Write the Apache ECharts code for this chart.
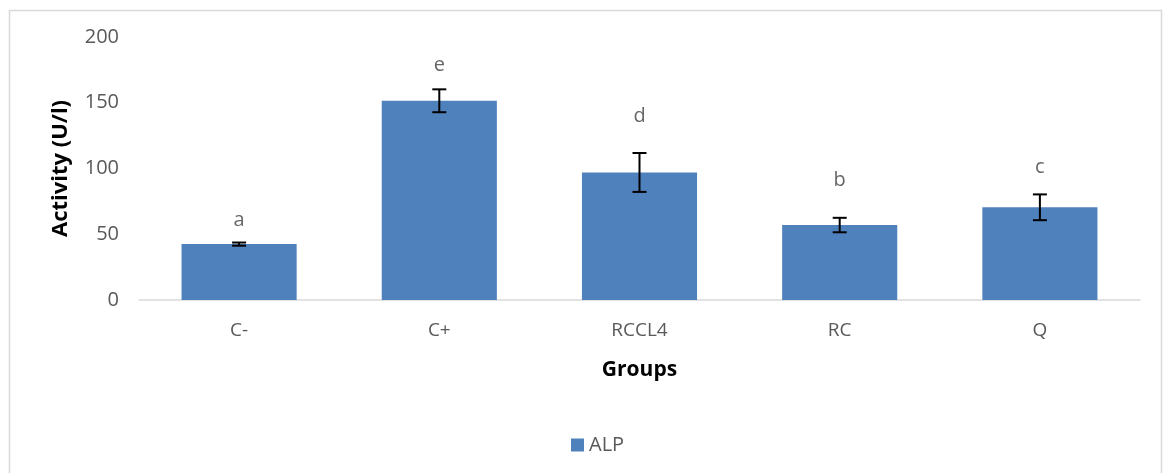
<!DOCTYPE html>
<html>
<head>
<meta charset="utf-8">
<script src="https://cdn.jsdelivr.net/npm/echarts@6/dist/echarts.min.js"></script>
<style>html,body{margin:0;padding:0;background:#fff}#c{width:1166px;height:473px}</style>
</head>
<body>
<div id="c"></div>
<script>
var categories = ['C-', 'C+', 'RCCL4', 'RC', 'Q'];
var alpValues = [42.5, 151.5, 97, 57, 70.5];
var alpErrors = [1.2, 8.7, 14.8, 5.5, 9.8];
var letters = ['a', 'e', 'd', 'b', 'c'];
var letterHeights = [60.8, 178.7, 139.9, 90.7, 100.9];
var yTicks = [0, 50, 100, 150, 200];

var chart = echarts.init(document.getElementById('c'), null, {renderer: 'canvas'});
var font = '"Open Sans", "Liberation Sans", sans-serif';
var option = {
  animation: false,
  backgroundColor: '#fff',
  graphic: [{
    type: 'rect', left: 7, top: 8,
    shape: {width: 1152, height: 480},
    style: {fill: 'none', stroke: '#d9d9d9', lineWidth: 1.5},
    silent: true, z: -1
  }],
  grid: {left: 139, right: 26, top: 37, bottom: 173, containLabel: false},
  legend: {
    data: ['ALP'], left: 566, top: 430,
    itemWidth: 13, itemHeight: 13, icon: 'rect', itemGap: 6,
    textStyle: {color: '#595959', fontSize: 20, fontFamily: font}
  },
  xAxis: {
    type: 'category', data: categories,
    name: 'Groups', nameLocation: 'middle', nameGap: 60,
    nameTextStyle: {color: '#000', fontSize: 21, fontWeight: 'bold', fontFamily: font},
    axisLine: {lineStyle: {color: '#d9d9d9', width: 1.5}},
    axisTick: {show: false},
    axisLabel: {color: '#595959', fontSize: 19, fontFamily: font, margin: 21}
  },
  yAxis: {
    type: 'value', min: 0, max: 200, interval: 50,
    name: 'Activity (U/l)', nameLocation: 'middle', nameGap: 67, nameRotate: 90,
    nameTextStyle: {color: '#000', fontSize: 22, fontWeight: 'bold', fontFamily: font},
    axisLine: {show: false}, axisTick: {show: false},
    splitLine: {show: false},
    axisLabel: {color: '#595959', fontSize: 20, fontFamily: font, margin: 20,
      formatter: function (v) { return yTicks.indexOf(v) >= 0 ? String(v) : ''; }}
  },
  series: [
    {
      name: 'ALP', type: 'bar', data: alpValues, barWidth: '57.5%',
      itemStyle: {color: '#4f81bd'}
    },
    {
      name: 'err', type: 'custom',
      data: alpValues.map(function (v, i) { return [i, v - alpErrors[i], v + alpErrors[i]]; }),
      renderItem: function (params, api) {
        var lo = api.coord([api.value(0), api.value(1)]);
        var hi = api.coord([api.value(0), api.value(2)]);
        var hw = 7;
        var st = {stroke: '#000', lineWidth: 2};
        return {type: 'group', children: [
          {type: 'line', shape: {x1: hi[0], y1: hi[1], x2: lo[0], y2: lo[1]}, style: st},
          {type: 'line', shape: {x1: hi[0] - hw, y1: hi[1], x2: hi[0] + hw, y2: hi[1]}, style: st},
          {type: 'line', shape: {x1: lo[0] - hw, y1: lo[1], x2: lo[0] + hw, y2: lo[1]}, style: st}
        ]};
      },
      z: 5
    },
    {
      name: 'letters', type: 'scatter', symbolSize: 1,
      itemStyle: {color: 'rgba(0,0,0,0)'},
      data: letterHeights.map(function (h, i) { return {value: [i, h], label: {formatter: letters[i]}}; }),
      label: {show: true, position: 'inside', color: '#404040', fontSize: 20, fontFamily: font}
    }
  ]
};
chart.setOption(option);
</script>
</body>
</html>
